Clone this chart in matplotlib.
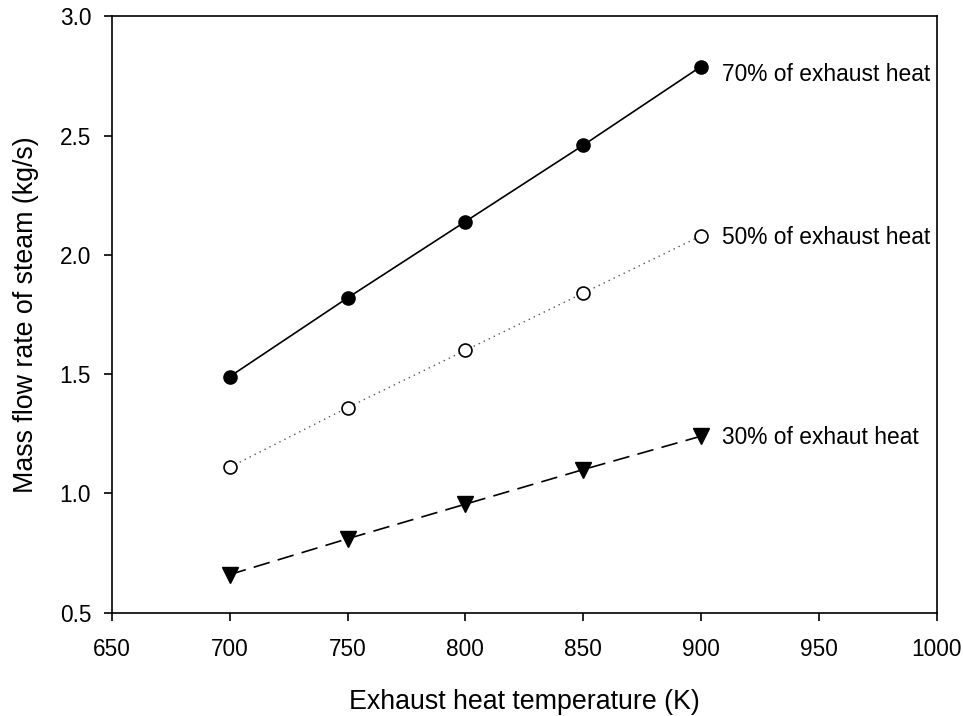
import matplotlib
matplotlib.use("Agg")
import matplotlib.pyplot as plt

plt.rcParams['font.family'] = ['Liberation Sans', 'DejaVu Sans']

temperature = [700, 750, 800, 850, 900]
steam_70 = [1.49, 1.82, 2.14, 2.46, 2.79]
steam_50 = [1.11, 1.36, 1.60, 1.84, 2.08]
steam_30 = [0.66, 0.81, 0.955, 1.10, 1.24]
labels = ["70% of exhaust heat", "50% of exhaust heat", "30% of exhaut heat"]

x_ticks = [650, 700, 750, 800, 850, 900, 950, 1000]
y_ticks = [0.5, 1.0, 1.5, 2.0, 2.5, 3.0]

fig = plt.figure(figsize=(9.63, 7.16), dpi=100)
ax = fig.add_axes([0.1163, 0.1443, 0.9725 - 0.1163, 0.977 - 0.1443])

ax.plot(temperature, steam_70, color='black', lw=1.2, ls='-', marker='o',
        ms=9.5, mfc='black', mec='black', zorder=3)
ax.plot(temperature, steam_50, color='#555555', lw=1.0, ls=(0, (1, 3)), marker='o',
        ms=9.3, mfc='white', mec='black', mew=1.2, zorder=3)
ax.plot(temperature, steam_30, color='black', lw=1.2, ls=(0, (10, 5)), marker='v',
        ms=11, mfc='black', mec='black', zorder=3)

label_x = 909
label_y = [2.755, 2.075, 1.235]
for txt, ly in zip(labels, label_y):
    ax.text(label_x, ly, txt, fontsize=16.4, va='center', ha='left')

ax.set_xlim(650, 1000)
ax.set_ylim(0.5, 3.0)
ax.set_xticks(x_ticks)
ax.set_yticks(y_ticks)
ax.set_xticklabels([str(v) for v in x_ticks])
ax.set_yticklabels([f"{v:.1f}" for v in y_ticks])

for s in ax.spines.values():
    s.set_linewidth(1.2)
ax.tick_params(direction='out', length=6, width=1.2, labelsize=16.3)
ax.tick_params(axis='x', top=False, pad=12)
ax.tick_params(axis='y', right=False, pad=9)

ax.set_xlabel("Exhaust heat temperature (K)", fontsize=19.3)
ax.set_ylabel("Mass flow rate of steam (kg/s)", fontsize=19.3)
ax.xaxis.set_label_coords(0.5, -0.128)
ax.yaxis.set_label_coords(-0.0885, 0.5)

fig.savefig("out.png", dpi=100)
